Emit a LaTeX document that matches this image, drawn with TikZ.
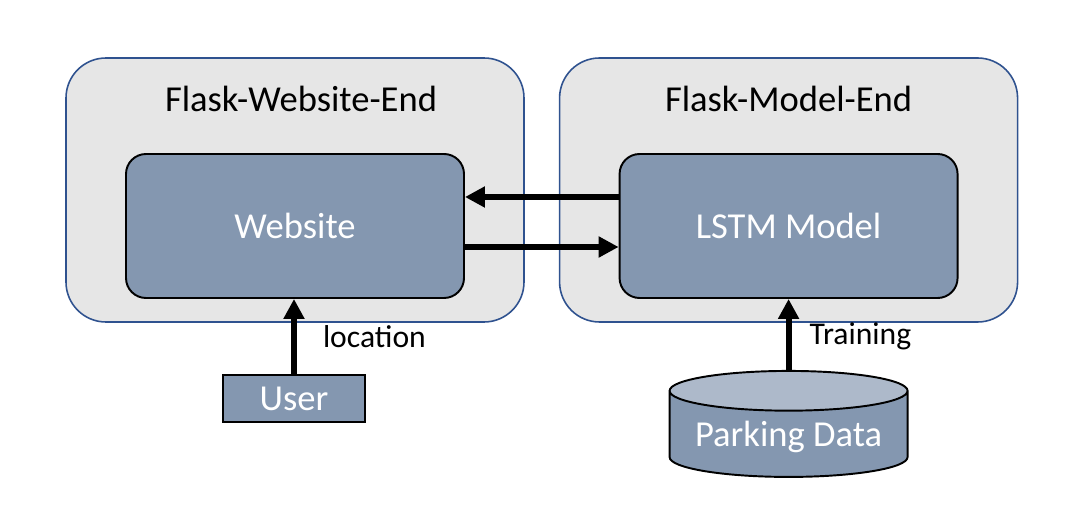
\documentclass[tikz,border=0pt]{standalone}
\usepackage{fontspec}
\setmainfont{Carlito}
\usetikzlibrary{positioning,shapes.geometric,arrows.meta}

\newcommand{\diafont}{\fontsize{20.8}{24}\selectfont}
\newcommand{\lblfont}{\fontsize{18}{21}\selectfont}

\definecolor{endgray}{RGB}{230,230,230}
\definecolor{endblue}{RGB}{47,82,143}
\definecolor{boxblue}{RGB}{132,151,176}
\definecolor{toplight}{RGB}{173,185,202}

\tikzset{
	endbox/.style = {rectangle, draw=endblue, fill=endgray, line width=0.9pt,
		rounded corners=0.8cm, minimum width=9.16cm, minimum height=5.28cm},
	title/.style = {inner sep=0pt, font=\diafont},
	block/.style = {rectangle, draw, fill=boxblue, line width=1.1pt, text=white,
		rounded corners=0.4cm, minimum width=6.76cm, minimum height=2.88cm, font=\diafont},
	userbox/.style = {rectangle, draw, fill=boxblue, line width=1.1pt, text=white,
		minimum width=2.84cm, minimum height=0.94cm, inner sep=0pt, font=\diafont},
	data/.style = {cylinder, shape border rotate=90, aspect=0.2, draw, line width=1.1pt,
		cylinder uses custom fill, cylinder body fill=boxblue, cylinder end fill=toplight,
		minimum width=4.76cm, minimum height=2.12cm, text=white, font=\diafont},
	lbl/.style = {inner sep=0pt, font=\lblfont},
	line/.style = {draw, line width=0.12cm, -{Triangle[length=0.4cm, width=0.4cm]}}
}

\begin{document}
\begin{tikzpicture}
	\useasboundingbox (0,0) rectangle (21.68,10.48);
	
	% the two ends
	\node [endbox] (wend) at (5.90,6.68) {};
	\node [endbox, right=0.68cm of wend] (mend) {};
	\node [title] (wtitle) at ([xshift=0.12cm, yshift=-0.84cm]wend.north) {Flask-Website-End};
	\node [title] (mtitle) at ([yshift=-0.84cm]mend.north) {Flask-Model-End};
	
	\node [block] (web) at ([yshift=-0.72cm]wend.center) {Website};
	\node [block] (lstm) at ([yshift=-0.72cm]mend.center) {LSTM Model};
	
	%inputs
	\node [userbox, below=1.5cm of web, xshift=-0.02cm] (user) {User};
	\node [data, below=1.42cm of lstm] (pdata) {Parking Data};
	
	\path [line] ([yshift=0.58cm]lstm.west) -- ([yshift=0.58cm]lstm.west -| web.east);
	\path [line] ([yshift=-0.42cm]web.east) -- ([yshift=-0.42cm]web.east -| lstm.west);
	
	\path [line] (user.north) -- (user.north |- web.south) node [lbl, midway, right=0.52cm] {location};
	\path [line] (pdata.north) -- (pdata.north |- lstm.south) node [lbl, midway, right=0.36cm, yshift=-0.04cm] {Training};
	
\end{tikzpicture}
\end{document}
